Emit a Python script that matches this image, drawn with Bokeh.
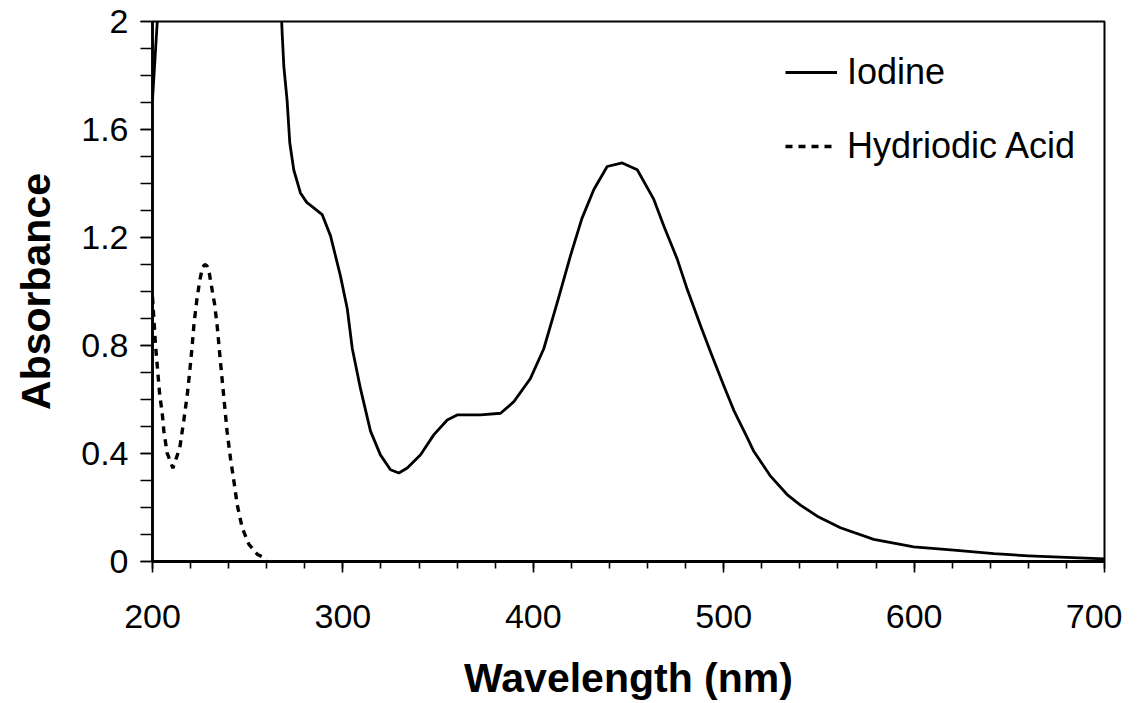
import numpy as np
from bokeh.plotting import figure
from bokeh.models import (SingleIntervalTicker, CustomJSTickFormatter, Range1d,
                          Legend, LegendItem, ColumnDataSource)
from bokeh.embed import file_html
from bokeh.resources import INLINE

NAN = float("nan")

# Iodine spectrum (off-scale part between ~203 and ~267 nm is broken by NaN)
iodine_nm = [200, 202.5, 203.2, NAN, 267.5, 268.1, 269.0, 270.7, 272.1, 274.2, 277.7,
             281.0, 284.7, 289.1, 293.5, 298.7, 302.3, 304.9, 309.2, 314.5, 319.7,
             325.0, 329.4, 333.8, 340.8, 347.7, 354.8, 360.0, 372.3, 382.8, 389.8,
             398.5, 405.5, 412.6, 419.5, 425.5, 431.8, 438.8, 446.7, 454.6, 463.3,
             468.6, 475.6, 480.8, 487.8, 493.1, 500.1, 505.3, 512.3, 515.8, 524.6,
             533.3, 540.3, 549.1, 561.3, 578.8, 599.8, 620.9, 641.9, 660.0, 680.0,
             700.0]
iodine_abs = [1.71, 2.0, 2.06, NAN, 2.06, 1.956, 1.832, 1.707, 1.551, 1.45, 1.365,
              1.33, 1.31, 1.285, 1.206, 1.058, 0.936, 0.79, 0.641, 0.483, 0.395,
              0.34, 0.328, 0.346, 0.395, 0.469, 0.524, 0.543, 0.543, 0.549, 0.592,
              0.678, 0.788, 0.96, 1.132, 1.27, 1.378, 1.463, 1.476, 1.451, 1.341,
              1.242, 1.12, 1.009, 0.874, 0.776, 0.65, 0.56, 0.46, 0.408, 0.316,
              0.248, 0.209, 0.168, 0.125, 0.082, 0.054, 0.042, 0.029, 0.021, 0.015,
              0.01]

# Hydriodic acid spectrum
hi_nm = [200, 201.6, 202.8, 203.8, 205.1, 206.0, 207.7, 210.7, 214.3, 216.4, 218.3,
         219.5, 220.6, 221.8, 223.3, 224.8, 226.3, 227.5, 228.6, 229.6, 231.4, 232.6,
         234.0, 235.3, 236.5, 237.7, 239.2, 241.0, 242.7, 244.5, 247.1, 250.6, 255.0,
         260.2]
hi_abs = [0.98, 0.80, 0.70, 0.616, 0.55, 0.481, 0.401, 0.346, 0.42, 0.52, 0.62,
          0.70, 0.78, 0.88, 0.97, 1.04, 1.09, 1.10, 1.095, 1.077, 1.003, 0.954,
          0.87, 0.77, 0.68, 0.59, 0.48, 0.38, 0.30, 0.21, 0.125, 0.064, 0.027,
          0.008]

x_ticks_major = 100
x_minor_per_major = 5
y_ticks_major = 0.4
y_minor_per_major = 4

FONT = "Liberation Sans"

p = figure(width=1122, height=703, output_backend="svg", toolbar_location=None,
           x_range=Range1d(200, 700), y_range=Range1d(0, 2),
           min_border_left=152, min_border_right=18, min_border_top=21,
           min_border_bottom=139)
p.background_fill_color = "white"
p.border_fill_color = "white"
p.grid.visible = False
p.outline_line_color = "black"
p.outline_line_width = 2
p.outline_line_alpha = 1

src_i = ColumnDataSource(dict(x=np.array(iodine_nm, dtype=float), y=np.array(iodine_abs, dtype=float)))
src_h = ColumnDataSource(dict(x=np.array(hi_nm, dtype=float), y=np.array(hi_abs, dtype=float)))

r_i = p.line("x", "y", source=src_i, line_color="black", line_width=2.8, line_join="round")
r_h = p.line("x", "y", source=src_h, line_color="black", line_width=3.4, line_dash="7 6")

# axes
p.xaxis.ticker = SingleIntervalTicker(interval=x_ticks_major, num_minor_ticks=x_minor_per_major)
p.yaxis.ticker = SingleIntervalTicker(interval=y_ticks_major, num_minor_ticks=y_minor_per_major)
p.yaxis.formatter = CustomJSTickFormatter(code="var s = tick.toFixed(1); return s.replace(/\\.0$/, '');")

for ax in (p.xaxis[0], p.yaxis[0]):
    ax.axis_line_color = "black"
    ax.axis_line_width = 2.8
    ax.major_tick_line_color = "black"
    ax.minor_tick_line_color = "black"
    ax.major_tick_line_width = 1.6
    ax.minor_tick_line_width = 1.6
    ax.major_tick_in = 0
    ax.minor_tick_in = 0
    ax.major_label_text_font = FONT
    ax.major_label_text_font_size = "34px"
    ax.major_label_text_color = "black"
    ax.axis_label_text_font = FONT
    ax.axis_label_text_font_style = "bold"
    ax.axis_label_text_font_size = "41px"
    ax.axis_label_text_color = "black"

p.xaxis.axis_label = "Wavelength (nm)"
p.yaxis.axis_label = "Absorbance"
p.xaxis.major_tick_out = 11
p.xaxis.minor_tick_out = 7
p.yaxis.major_tick_out = 12
p.yaxis.minor_tick_out = 12
p.xaxis.major_label_standoff = 32
p.xaxis.axis_label_standoff = 24
p.yaxis.major_label_standoff = 12
p.yaxis.axis_label_standoff = 19

legend = Legend(items=[LegendItem(label="Iodine", renderers=[r_i]),
                       LegendItem(label="Hydriodic Acid", renderers=[r_h])],
                location=(633, 394))
legend.label_text_font = FONT
legend.label_text_font_size = "36px"
legend.label_text_color = "black"
legend.glyph_width = 52
legend.glyph_height = 42
legend.label_height = 42
legend.spacing = 32
legend.label_standoff = 10
legend.padding = 0
legend.margin = 0
legend.border_line_alpha = 0
legend.background_fill_alpha = 0
p.add_layout(legend, "center")

open("out.html", "w").write(file_html(p, INLINE))
